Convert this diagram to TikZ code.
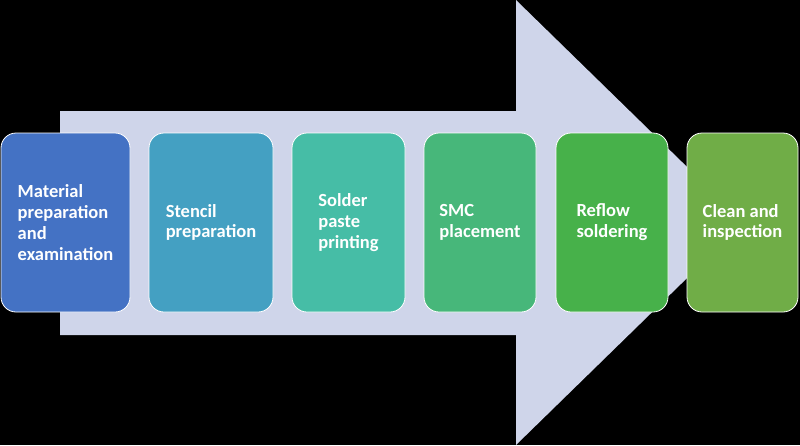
\documentclass[tikz,border=0pt]{standalone}
\usepackage{fontspec}
\setmainfont{Carlito}
\definecolor{arrowc}{HTML}{CFD5EA}
\definecolor{c1}{HTML}{4472C4}
\definecolor{c2}{HTML}{44A0C2}
\definecolor{c3}{HTML}{46BDA6}
\definecolor{c4}{HTML}{47B77A}
\definecolor{c5}{HTML}{47B14A}
\definecolor{c6}{HTML}{70AD47}
\tikzset{
  stepbox/.style={draw=white, line width=0.8pt, rounded corners=15pt,
    minimum height=179pt, inner sep=0pt, align=left, text=white,
    font=\fontsize{18.5pt}{20.8pt}\selectfont\bfseries}
}
\begin{document}
\begin{tikzpicture}[x=1pt,y=-1pt]
\useasboundingbox (0,0) rectangle (800,445);
\fill[black] (0,0) rectangle (800,445);
\fill[arrowc] (60,111) -- (516,111) -- (516,0) -- (744,222.5) -- (516,445) -- (516,335) -- (60,335) -- cycle;
\node[stepbox, fill=c1, minimum width=129pt] (b1) at (65.5,222.5) {Material\\preparation\\and\\examination};
\node[stepbox, fill=c2, minimum width=124pt] (b2) at (211,222.5) {Stencil\\preparation};
\node[stepbox, fill=c3, minimum width=113pt] (b3) at (348.5,222.5) {Solder\\paste\\printing};
\node[stepbox, fill=c4, minimum width=112pt] (b4) at (480,222.5) {SMC\\placement};
\node[stepbox, fill=c5, minimum width=112pt] (b5) at (612,222.5) {Reflow\\soldering};
\node[stepbox, fill=c6, minimum width=111pt] (b6) at (742.5,222.5) {Clean and\\inspection};
\end{tikzpicture}
\end{document}
